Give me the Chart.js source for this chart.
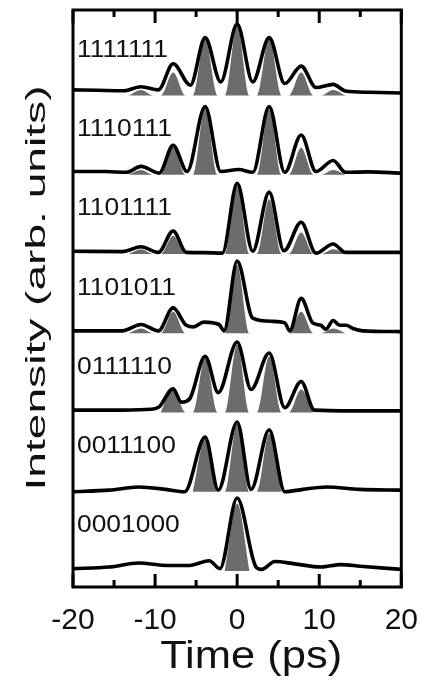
<!DOCTYPE html>
<html><head><meta charset="utf-8">
<script src="https://cdn.jsdelivr.net/npm/chart.js@4/dist/chart.umd.min.js"></script>
<style>html,body{margin:0;padding:0;background:#fff}canvas{display:block}</style>
</head><body>
<canvas id="c" width="434" height="691"></canvas>
<script>
// ---------- data ----------
const patterns = ['1111111','1110111','1101111','1101011','0111110','0011100','0001000'];
const pulseCenters = [-11.7, -7.8, -3.9, 0, 3.9, 7.8, 11.7];   // ps

// calculated (gray) pulse amplitudes per pattern
const fit_1111111 = [0.07, 0.29, 0.72, 0.88, 0.72, 0.29, 0.07];
const fit_1110111 = [0.06, 0.34, 0.84, 0,    0.84, 0.34, 0.06];
const fit_1101111 = [0.06, 0.23, 0,    0.86, 0.69, 0.27, 0.06];
const fit_1101011 = [0.06, 0.27, 0,    0.86, 0,    0.27, 0.06];
const fit_0111110 = [0,    0.32, 0.69, 0.86, 0.71, 0.29, 0   ];
const fit_0011100 = [0,    0,    0.67, 0.86, 0.73, 0,    0   ];
const fit_0001000 = [0,    0,    0,    0.85, 0,    0,    0   ];

// measured (black) traces: [time ps, intensity]
const meas_1111111 = [[-20,0.07],[-17,0.065],[-13.8,0.06],[-11.7,0.11],[-9.6,0.07],[-7.8,0.40],[-5.7,0.13],[-3.9,0.73],[-2.0,0.17],[0,0.90],[1.9,0.17],[3.9,0.73],[5.8,0.15],[7.8,0.37],[9.6,0.10],[11.7,0.14],[13.2,0.055],[16,0.04],[20,0.03]];
const meas_1110111 = [[-20,0.04],[-16,0.04],[-13.5,0.03],[-11.7,0.105],[-9.5,0.02],[-7.8,0.37],[-6.1,0.04],[-3.9,0.86],[-2.0,0.04],[0.2,0.065],[1.9,0.03],[3.9,0.86],[5.8,0.03],[7.8,0.50],[9.6,0.04],[11.7,0.18],[13.2,0.03],[16,0.035],[20,0.02]];
const meas_1101111 = [[-20,0.034],[-14,0.03],[-11.7,0.09],[-9.6,0.02],[-7.8,0.29],[-6.2,0.02],[-4,0.017],[-1.8,0.01],[0,0.89],[1.9,0.034],[3.9,0.78],[5.7,0.04],[7.8,0.40],[9.6,0.01],[11.7,0.126],[13.2,0.02],[20,0.02]];
const meas_1101011 = [[-20,0.03],[-14,0.03],[-11.7,0.11],[-9.6,0.03],[-7.8,0.32],[-6.2,0.10],[-5.3,0.08],[-4.1,0.14],[-2.2,0.11],[-1.6,0.03],[0,0.91],[1.9,0.19],[4.3,0.15],[5.8,0.13],[6.4,0.03],[7.8,0.44],[9.2,0.13],[10.2,0.10],[10.8,0.05],[11.7,0.16],[12.5,0.10],[13.3,0.10],[14.1,0.06],[15.3,0.03],[20,0.02]];
const meas_0111110 = [[-20,0.03],[-14,0.03],[-10.5,0.04],[-9.5,0.07],[-7.8,0.30],[-6.8,0.13],[-5.8,0.17],[-3.9,0.71],[-2.3,0.25],[0,0.89],[1.7,0.29],[3.9,0.75],[5.8,0.06],[7.8,0.39],[9.4,0.03],[14,0.02],[20,0.02]];
const meas_0011100 = [[-20,0.0],[-15.6,0.02],[-12,0.06],[-8.7,0.03],[-6.4,0.0],[-3.9,0.69],[-2.3,0.02],[0,0.88],[1.7,0.03],[3.9,0.78],[5.8,0.0],[8,0.03],[10.9,0.06],[14.9,0.03],[20,0.02]];
const meas_0001000 = [[-20,0.03],[-15.6,0.05],[-12,0.10],[-8.5,0.07],[-5.8,0.07],[-3.4,0.13],[-2.1,0.03],[0,0.92],[2.3,0.05],[3.0,0.02],[4.6,0.12],[7.0,0.09],[10.2,0.05],[12.6,0.08],[15,0.06],[20,0.02]];

const xMajorTicks = [-20, -10, 0, 10, 20];
const xMinorTicks = [-15, -5, 5, 15];

const fits = [fit_1111111, fit_1110111, fit_1101111, fit_1101011, fit_0111110, fit_0011100, fit_0001000];
const meas = [meas_1111111, meas_1110111, meas_1101111, meas_1101011, meas_0111110, meas_0011100, meas_0001000];

// ---------- build datasets ----------
const PANEL_STEP = 1.0;
const HALF_BASE = 1.5;
const datasets = [];
patterns.forEach((p, k) => {
  const off = (patterns.length - 1 - k) * PANEL_STEP;
  const gray = [];
  pulseCenters.forEach((c, i) => {
    const a = fits[k][i];
    if (a > 0) {
      gray.push({x: c - HALF_BASE, y: off});
      gray.push({x: c, y: off + a});
      gray.push({x: c + HALF_BASE, y: off});
    }
  });
  datasets.push({
    label: 'fit ' + p, data: gray, order: 2,
    borderWidth: 0, borderColor: 'rgba(0,0,0,0)', backgroundColor: '#6c6c6c',
    fill: {value: off}, pointRadius: 0, cubicInterpolationMode: 'monotone'
  });
  datasets.push({
    label: p, data: meas[k].map(([t, v]) => ({x: t, y: off + v})), order: 1,
    borderWidth: 3.6, borderColor: '#000', fill: false, pointRadius: 0,
    cubicInterpolationMode: 'monotone', borderCapStyle: 'round', borderJoinStyle: 'round'
  });
});

const FONT = '"Liberation Sans", Arial, sans-serif';

const decor = {
  id: 'decor',
  afterDraw(chart) {
    const {ctx, chartArea: a, scales: {x, y}} = chart;
    ctx.save();
    // panel labels
    ctx.fillStyle = '#111';
    ctx.font = '24px ' + FONT;
    ctx.textAlign = 'left';
    ctx.textBaseline = 'middle';
    const lblScale = 91 / ctx.measureText('1111111').width;
    patterns.forEach((p, k) => {
      const off = (patterns.length - 1 - k) * PANEL_STEP;
      ctx.save();
      ctx.translate(x.getPixelForValue(-20) + 4, y.getPixelForValue(off + 0.57));
      ctx.scale(lblScale, 1);
      ctx.fillText(p, 0, 0);
      ctx.restore();
    });
    // frame
    ctx.strokeStyle = '#000';
    ctx.lineWidth = 3;
    ctx.strokeRect(a.left, a.top, a.right - a.left, a.bottom - a.top);
    // inward ticks top & bottom
    ctx.lineCap = 'butt';
    const tick = (v, len) => {
      const px = x.getPixelForValue(v);
      ctx.beginPath(); ctx.moveTo(px, a.top); ctx.lineTo(px, a.top + len); ctx.stroke();
      ctx.beginPath(); ctx.moveTo(px, a.bottom); ctx.lineTo(px, a.bottom - len); ctx.stroke();
    };
    xMajorTicks.forEach(v => tick(v, 13));
    xMinorTicks.forEach(v => tick(v, 7));
    // axis titles (stretched like the reference)
    ctx.fillStyle = '#111';
    ctx.font = '38px ' + FONT;
    ctx.textAlign = 'center';
    ctx.textBaseline = 'alphabetic';
    let t = 'Time (ps)';
    let w = ctx.measureText(t).width;
    ctx.save();
    ctx.translate((a.left + a.right) / 2 + 14, 668);
    ctx.scale(182 / w, 1);
    ctx.fillText(t, 0, 0);
    ctx.restore();

    ctx.font = '27px ' + FONT;
    t = 'Intensity (arb. units)';
    w = ctx.measureText(t).width;
    ctx.save();
    ctx.translate(45, 288);
    ctx.rotate(-Math.PI / 2);
    ctx.scale(405 / w, 1);
    ctx.fillText(t, 0, 0);
    ctx.restore();
    ctx.restore();
  }
};

new Chart(document.getElementById('c'), {
  type: 'line',
  data: {datasets},
  options: {
    responsive: false, animation: false, devicePixelRatio: 1,
    layout: {padding: {left: 73, right: 24, top: 10, bottom: 0}},
    plugins: {legend: {display: false}, tooltip: {enabled: false}},
    scales: {
      x: {
        type: 'linear', min: -20, max: 20,
        afterBuildTicks: s => { s.ticks = xMajorTicks.map(v => ({value: v})); },
        afterFit: s => { s.height = 104; },
        grid: {display: false, drawTicks: false},
        border: {display: false},
        ticks: {padding: 16, color: '#111', font: {family: FONT, size: 30}, maxRotation: 0, autoSkip: false}
      },
      y: {
        display: false, min: -0.202, max: 7.078
      }
    }
  },
  plugins: [decor]
});
</script>
</body></html>
